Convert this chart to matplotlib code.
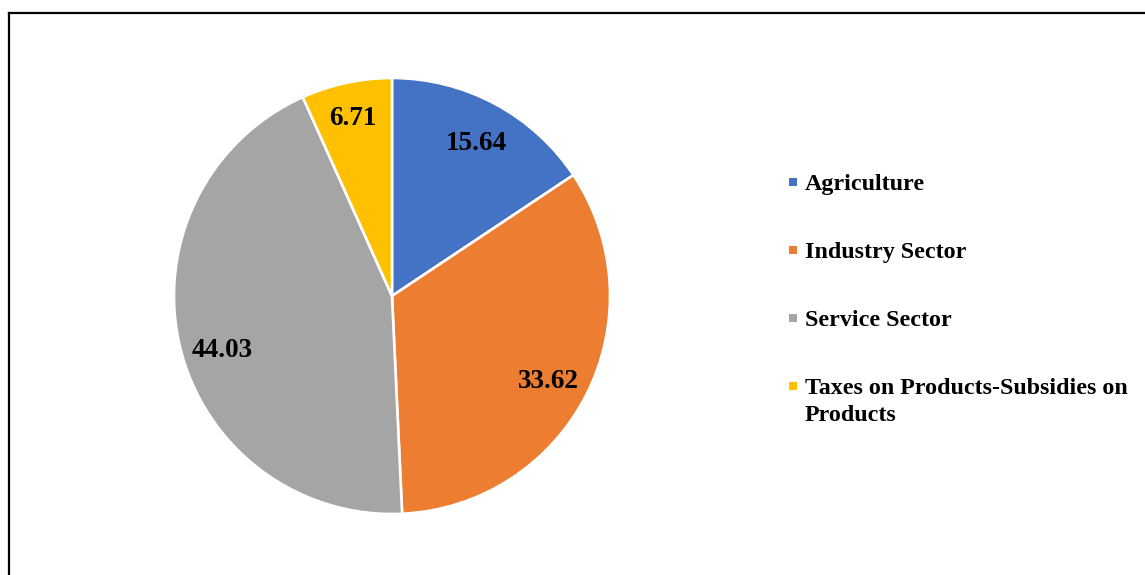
import matplotlib.pyplot as plt
from matplotlib.lines import Line2D
from matplotlib.patches import Rectangle

sectors = ["Agriculture", "Industry Sector", "Service Sector",
           "Taxes on Products-Subsidies on\nProducts"]
shares = [15.64, 33.62, 44.03, 6.71]
colors = ["#4472C4", "#ED7D31", "#A5A5A5", "#FFC000"]

plt.rcParams['font.family'] = ['Liberation Serif', 'DejaVu Serif']

W, H = 1145, 575
fig = plt.figure(figsize=(W / 100, H / 100), dpi=100)

# frame around chart area (cut off at right and bottom)
fig.add_artist(Line2D([8.5 / W, 8.5 / W], [0, 1 - 13 / H], color='black', lw=1.6))
fig.add_artist(Line2D([8.5 / W, 1], [1 - 13 / H, 1 - 13 / H], color='black', lw=1.6))

cx, cy, r = 392, 296, 218
ax = fig.add_axes([(cx - r) / W, (H - cy - r) / H, 2 * r / W, 2 * r / H])
wedges, texts, autotexts = ax.pie(
    shares, colors=colors, startangle=90, counterclock=False,
    autopct=lambda p: f"{p:.2f}", pctdistance=0.81,
    wedgeprops=dict(edgecolor='white', linewidth=1.9),
    textprops=dict(fontsize=19.5, fontweight='bold', color='black'))
ax.set_xlim(-1, 1)
ax.set_ylim(-1, 1)
ax.set_aspect('equal')

# nudge labels (pixels) to where Excel put them
nudges = [(1, -3), (-1, -6), (2, -14), (-2, 5)]
for t, (dx, dy) in zip(autotexts, nudges):
    x, y = t.get_position()
    t.set_position((x + dx / r, y + dy / r))

# legend drawn by hand so the wrapped entry keeps its marker on the first line
for i, (name, c) in enumerate(zip(sectors, colors)):
    base = 189.5 + 68.3 * i
    fig.add_artist(Rectangle(((789) / W, 1 - (base - 4) / H), 8 / W, 8 / H,
                             facecolor=c, edgecolor='none',
                             transform=fig.transFigure))
    for j, line in enumerate(name.split("\n")):
        fig.text(805 / W, 1 - (base + 27 * j) / H, line, fontsize=17.3,
                 fontweight='bold', va='baseline', ha='left')

fig.savefig("out.png", dpi=100, facecolor='white')
